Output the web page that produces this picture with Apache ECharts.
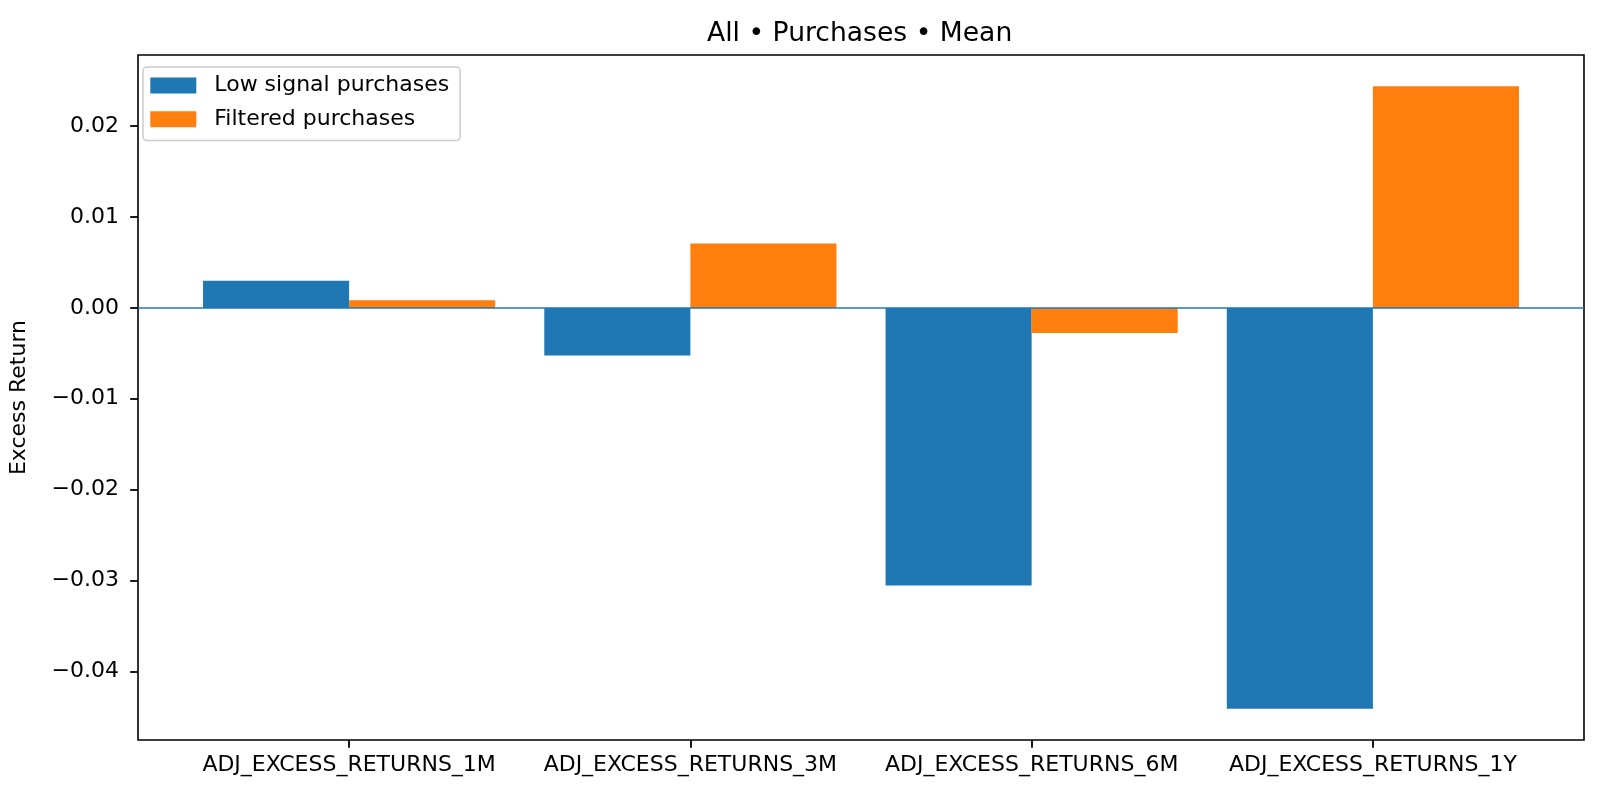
<!DOCTYPE html>
<html>
<head>
<meta charset="utf-8">
<script src="https://cdn.jsdelivr.net/npm/echarts@6/dist/echarts.min.js"></script>
<style>html,body{margin:0;padding:0;background:#fff}#c{width:1600px;height:791px}</style>
</head>
<body>
<div id="c"></div>
<script>
const title = 'All \u2022 Purchases \u2022 Mean';
const categories = ['ADJ_EXCESS_RETURNS_1M', 'ADJ_EXCESS_RETURNS_3M', 'ADJ_EXCESS_RETURNS_6M', 'ADJ_EXCESS_RETURNS_1Y'];
const lowSignal = [0.0030, -0.00525, -0.03055, -0.04413];
const filtered = [0.00084, 0.00708, -0.00275, 0.02441];
const seriesNames = ['Low signal purchases', 'Filtered purchases'];
const yTicks = [-0.04, -0.03, -0.02, -0.01, 0.00, 0.01, 0.02];
const yLabel = 'Excess Return';

const barW = 0.426; // bar width in category units
const grid = {left: 131, top: 55, right: 16, bottom: 51};
const gridW = 1600 - grid.left - grid.right;
const xSpan = categories.length - 1 + 2 * barW;
const xMin = -barW - 0.05 * xSpan;
const xMax = categories.length - 1 + barW + 0.05 * xSpan;
const all = lowSignal.concat(filtered, [0]);
const dMax = Math.max(...all), dMin = Math.min(...all);
const yMin = dMin - 0.05 * (dMax - dMin);
const yMax = dMax + 0.05 * (dMax - dMin);
const barPx = gridW * barW / (xMax - xMin);
const catIdx = categories.map((c, i) => i);

const font = 'DejaVu Sans';
const chart = echarts.init(document.getElementById('c'), null, {renderer: 'canvas'});
chart.setOption({
  animation: false,
  backgroundColor: '#fff',
  title: {
    text: title, left: 702, top: 16,
    textStyle: {fontFamily: font, fontSize: 26.6, fontWeight: 'normal', color: '#000'}
  },
  legend: {
    orient: 'vertical', left: 143, top: 67,
    data: seriesNames,
    icon: 'rect', itemWidth: 46, itemHeight: 16, itemGap: 11.7,
    padding: [7.6, 11, 10.3, 7.3],
    backgroundColor: 'rgba(255,255,255,0.8)', borderColor: '#cccccc', borderWidth: 1.5, borderRadius: 4,
    textStyle: {fontFamily: font, fontSize: 22, color: '#000', lineHeight: 22, padding: [0, 0, 0, 13]},
    selectedMode: false
  },
  grid: Object.assign({show: true, borderColor: '#000', borderWidth: 1.6, backgroundColor: '#fff', containLabel: false}, grid),
  xAxis: {
    type: 'value', min: xMin, max: xMax,
    axisLine: {show: false, onZero: false},
    splitLine: {show: false},
    axisTick: {show: true, customValues: catIdx, length: 7.8, lineStyle: {color: '#000', width: 1.8}},
    axisLabel: {customValues: catIdx, formatter: v => categories[Math.round(v)] || '', fontFamily: font, fontSize: 22, color: '#000', margin: 14}
  },
  yAxis: {
    type: 'value', min: yMin, max: yMax,
    name: yLabel, nameLocation: 'middle', nameRotate: 90, nameGap: 108,
    nameTextStyle: {fontFamily: font, fontSize: 22, color: '#000'},
    axisLine: {show: false, onZero: false},
    splitLine: {show: false},
    axisTick: {show: true, customValues: yTicks, length: 7.8, lineStyle: {color: '#000', width: 1.8}},
    axisLabel: {customValues: yTicks, formatter: v => (v < -1e-9 ? '\u2212' : '') + Math.abs(v).toFixed(2), fontFamily: font, fontSize: 22, color: '#000', margin: 19}
  },
  series: [
    {
      name: seriesNames[0], type: 'bar', barWidth: barPx, barGap: '0%',
      itemStyle: {color: '#1f77b4'},
      data: lowSignal.map((v, i) => [i, v]),
      markLine: {
        silent: true, symbol: 'none', label: {show: false},
        lineStyle: {color: '#1f77b4', width: 1.6, type: 'solid'},
        data: [{yAxis: 0}]
      },
      z: 2
    },
    {
      name: seriesNames[1], type: 'bar', barWidth: barPx, barGap: '0%',
      itemStyle: {color: '#ff7f0e'},
      data: filtered.map((v, i) => [i, v]),
      z: 2
    }
  ]
});
</script>
</body>
</html>
